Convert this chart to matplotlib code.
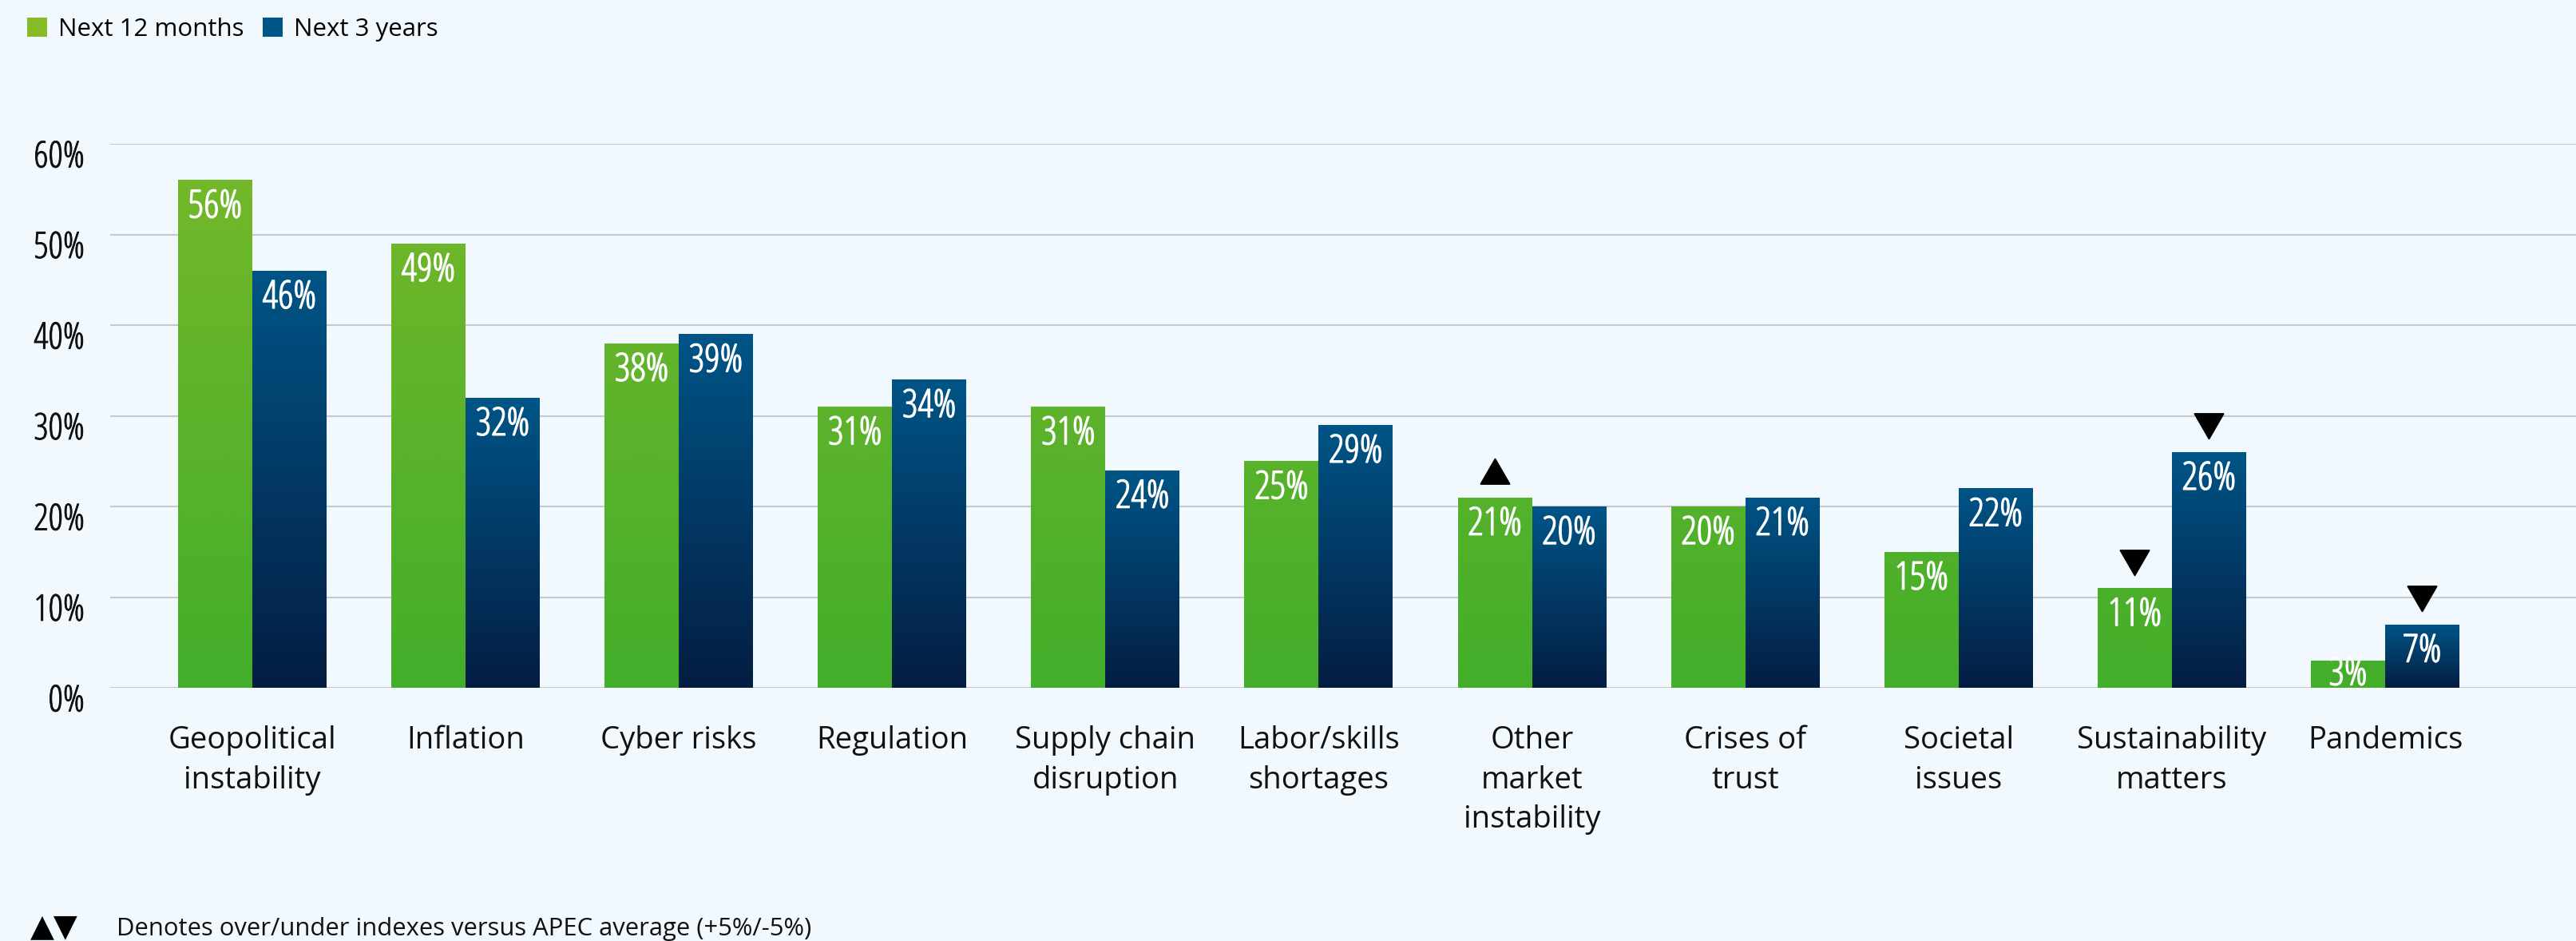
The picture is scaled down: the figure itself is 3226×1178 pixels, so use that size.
import matplotlib.pyplot as plt
import numpy as np
from matplotlib import font_manager as fm
from matplotlib import patheffects as pe
from matplotlib.colors import LinearSegmentedColormap
from matplotlib.patches import Patch
from matplotlib.transforms import ScaledTranslation

# data
categories = ['Geopolitical\ninstability', 'Inflation', 'Cyber risks', 'Regulation',
              'Supply chain\ndisruption', 'Labor/skills\nshortages', 'Other\nmarket\ninstability',
              'Crises of\ntrust', 'Societal\nissues', 'Sustainability\nmatters', 'Pandemics']
next_12m = [56, 49, 38, 31, 31, 25, 21, 20, 15, 11, 3]
next_3y = [46, 32, 39, 34, 24, 29, 20, 21, 22, 26, 7]
# 1 = over-indexes vs APEC average, -1 = under-indexes, 0 = none
flag_12m = [0, 0, 0, 0, 0, 0, 1, 0, 0, -1, 0]
flag_3y = [0, 0, 0, 0, 0, 0, 0, 0, 0, -1, -1]
yticks = [0, 10, 20, 30, 40, 50, 60]

bg = '#F1F8FE'
green = '#86BC25'
blue = '#005587'
green_cmap = LinearSegmentedColormap.from_list('g', ['#43AE2A', '#76B82A'])
blue_cmap = LinearSegmentedColormap.from_list('b', ['#041D42', '#005587'])

# condensed face for the numbers
cond = [f.fname for f in fm.fontManager.ttflist if f.fname.endswith('OpenSans-CondLight.ttf')]
if cond:
    num_font = fm.FontProperties(fname=cond[0])
else:
    num_font = fm.FontProperties(family='Liberation Sans')
label_family = ['Open Sans', 'DejaVu Sans']

W, H = 3226, 1178
fig = plt.figure(figsize=(W / 100, H / 100), dpi=100, facecolor=bg)
ax = fig.add_axes([138 / W, 317 / H, (W - 138) / W, (861 - 180) / H])
ax.set_facecolor(bg)

x = np.arange(len(categories))
bw = 0.348
ymax = 60

bars_g = ax.bar(x - bw / 2, next_12m, bw, color='none', edgecolor='none', zorder=2)
bars_b = ax.bar(x + bw / 2, next_3y, bw, color='none', edgecolor='none', zorder=2)

grad = np.linspace(0, 1, 256).reshape(-1, 1)
for b in bars_g:
    h = b.get_height()
    # green shade follows the axis, not the bar
    img = ax.imshow(grad * h / ymax, cmap=green_cmap, vmin=0, vmax=1, origin='lower',
                    extent=[b.get_x(), b.get_x() + b.get_width(), 0, h], aspect='auto', zorder=2)
    img.set_clip_path(b)
for b in bars_b:
    h = b.get_height()
    img = ax.imshow(grad, cmap=blue_cmap, vmin=0, vmax=1, origin='lower',
                    extent=[b.get_x(), b.get_x() + b.get_width(), 0, h], aspect='auto', zorder=2)
    img.set_clip_path(b)

# value labels inside the bars
lab_font = num_font.copy()
lab_font.set_size(35)
for xs, vals in [(x - bw / 2, next_12m), (x + bw / 2, next_3y)]:
    for xi, v in zip(xs, vals):
        ax.text(xi, max(v - 3.0, 1.45), f'{v}%', ha='center', va='center', color='white',
                fontproperties=lab_font, zorder=4,
                path_effects=[pe.withStroke(linewidth=0.9, foreground='white')])

# over/under index markers
for xs, vals, flags in [(x - bw / 2, next_12m, flag_12m), (x + bw / 2, next_3y, flag_3y)]:
    for xi, v, f in zip(xs, vals, flags):
        if f > 0:
            ax.plot(xi, v + 2.4, marker=(3, 0, 0), ms=30.7, color='black', ls='none', clip_on=False, zorder=5)
        elif f < 0:
            ax.plot(xi, v + 3.3, marker=(3, 0, 180), ms=30.7, color='black', ls='none', clip_on=False, zorder=5)

ax.set_xlim(-0.666, 10.895)
ax.set_ylim(0, ymax)
ax.set_yticks(yticks)
ax.set_yticklabels([f'{t}%' for t in yticks])
ax.set_xticks(x)
ax.set_xticklabels(categories)
ax.tick_params(axis='y', length=0, pad=23)
ax.tick_params(axis='x', length=0, pad=34)

tick_font = num_font.copy()
tick_font.set_size(33)
for lb in ax.get_yticklabels():
    lb.set_fontproperties(tick_font)
    lb.set_color('#111111')
    lb.set_path_effects([pe.withStroke(linewidth=0.6, foreground='#111111')])
    lb.set_transform(lb.get_transform() + ScaledTranslation(0, -0.12, fig.dpi_scale_trans))
for lb in ax.get_xticklabels():
    lb.set_family(label_family)
    lb.set_fontsize(27.5)
    lb.set_color('#111111')
    lb.set_linespacing(1.4)
ax.grid(axis='y', color='#C6C9CD', linewidth=1.5, zorder=1)
ax.set_axisbelow(True)
for s in ax.spines.values():
    s.set_visible(False)

# legend
handles = [Patch(facecolor=green, edgecolor='none', label='Next 12 months'),
           Patch(facecolor=blue, edgecolor='none', label='Next 3 years')]
fig.legend(handles=handles, loc='upper left', bbox_to_anchor=(34 / W, 1 - 22 / H), ncol=2,
           frameon=False, prop={'family': label_family, 'size': 22.5}, handlelength=0.8,
           handleheight=0.8, handletextpad=0.45, columnspacing=0.75, borderpad=0, borderaxespad=0)

# footnote
fig.text(38 / W, 1 - 1171 / H, '\u25B2\u25BC', family=['DejaVu Sans'], fontsize=28, va='baseline', color='black')
fig.text(146 / W, 1 - 1171 / H, 'Denotes over/under indexes versus APEC average (+5%/-5%)',
         family=label_family, fontsize=22.3, va='baseline', color='#111111')

fig.savefig('out.png', dpi=100, facecolor=bg)
